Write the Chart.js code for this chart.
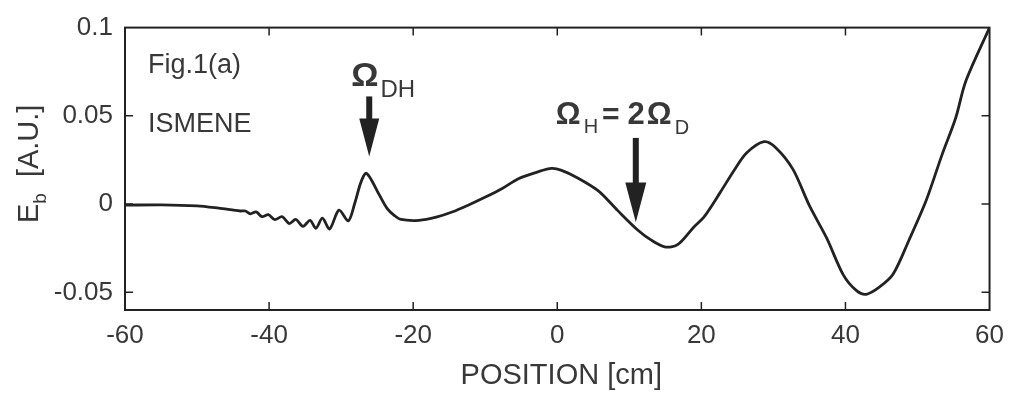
<!DOCTYPE html>
<html>
<head>
<meta charset="utf-8">
<script src="https://cdn.jsdelivr.net/npm/chart.js@4.4.1/dist/chart.umd.min.js"></script>
<style>
  body { margin: 0; background: #fff; }
  #wrap { width: 1014px; height: 399px; }
</style>
</head>
<body>
<div id="wrap"><canvas id="ebChart"></canvas></div>
<script>
// Eb profile along the beam line (ISMENE)
const posCm = [
  -60, -55, -50, -47, -44, -43.3, -42.6, -41.8, -41.0, -40.1, -39.2, -38.2,
  -37.2, -36.3, -35.3, -34.3, -33.5, -32.6, -31.6, -30.3, -29.0, -28.1, -27.4,
  -26.9, -26.5, -25.8, -24.7, -23.6, -22.6, -21.7, -19.2, -16.8, -14.6, -12.3,
  -9.9, -7.7, -5.4, -2.6, -0.8, 0.6, 2.9, 5.7, 8.4, 11.2, 13.0, 14.9, 16.7,
  19.0, 20.4, 22.6, 24.6, 26.3, 28.7, 30.3, 32.7, 35.0, 37.4, 39.7, 41.5,
  42.9, 44.7, 46.6, 48.8, 51.2, 53.4, 55.3, 56.7, 60
];
const ebValues = [
  -0.0006, -0.0004, -0.0010, -0.0023, -0.0039, -0.0039, -0.0055, -0.0044,
  -0.0071, -0.0060, -0.0088, -0.0071, -0.0110, -0.0087, -0.0126, -0.0092,
  -0.0137, -0.0080, -0.0141, -0.0034, -0.0095, 0.0006, 0.0107, 0.0158, 0.0175,
  0.0137, 0.0052, -0.0026, -0.0065, -0.0087, -0.0092, -0.0074, -0.0045,
  -0.0005, 0.0041, 0.0087, 0.0144, 0.0184, 0.0202, 0.0191, 0.0147, 0.0075,
  -0.0037, -0.0148, -0.0203, -0.0242, -0.0230, -0.0128, -0.0071, 0.0065,
  0.0195, 0.0291, 0.0354, 0.0321, 0.0198, -0.0009, -0.0193, -0.0401, -0.0489,
  -0.0511, -0.0471, -0.0398, -0.0206, 0.0020, 0.0279, 0.0488, 0.0696, 0.1
];
const xTickValues = [-60, -40, -20, 0, 20, 40, 60];
const yTickValues = [-0.05, 0, 0.05, 0.1];

const INK = "#222222";
const TEXT = "#383838";
const FONT = "'Liberation Sans', Arial, Helvetica, sans-serif";

// draws a run of text pieces (for subscripts), left to right
function drawRich(ctx, parts, x, y) {
  let cx = x;
  parts.forEach((p) => {
    ctx.font = p.font;
    cx += p.gap || 0;
    ctx.fillText(p.t, cx, y + (p.dy || 0));
    cx += ctx.measureText(p.t).width;
  });
}

function drawArrow(ctx, x, yTop, yHead, yTip, headW) {
  ctx.fillStyle = INK;
  ctx.fillRect(x - 3, yTop, 6, yHead - yTop + 2);
  ctx.beginPath();
  ctx.moveTo(x - headW / 2, yHead);
  ctx.lineTo(x + headW / 2, yHead);
  ctx.lineTo(x, yTip);
  ctx.closePath();
  ctx.fill();
}

const framePlugin = {
  id: "frame",
  afterDatasetsDraw(chart) {
    const { ctx, chartArea: a, scales } = chart;
    const sx = scales.x, sy = scales.y;
    ctx.save();

    // box
    ctx.strokeStyle = INK;
    ctx.lineWidth = 2;
    ctx.strokeRect(a.left, a.top, a.right - a.left, a.bottom - a.top);

    // inward ticks on all four sides
    ctx.lineWidth = 1.5;
    ctx.beginPath();
    xTickValues.slice(1, -1).forEach((v) => {
      const px = sx.getPixelForValue(v);
      ctx.moveTo(px, a.bottom); ctx.lineTo(px, a.bottom - 8);
      ctx.moveTo(px, a.top); ctx.lineTo(px, a.top + 8);
    });
    yTickValues.slice(0, -1).forEach((v) => {
      const py = sy.getPixelForValue(v);
      ctx.moveTo(a.left, py); ctx.lineTo(a.left + 8, py);
      ctx.moveTo(a.right, py); ctx.lineTo(a.right - 8, py);
    });
    ctx.stroke();

    // axis titles
    ctx.fillStyle = TEXT;
    ctx.textBaseline = "alphabetic";
    ctx.font = "29px " + FONT;
    ctx.textAlign = "center";
    ctx.fillText("POSITION [cm]", (a.left + a.right) / 2 + 4, 384);
    ctx.textAlign = "left";
    ctx.save();
    ctx.translate(38, 223);
    ctx.rotate(-Math.PI / 2);
    drawRich(ctx, [
      { t: "E", font: "29px " + FONT },
      { t: "b", font: "19px " + FONT, dy: 8 },
      { t: "[A.U.]", font: "29px " + FONT, gap: 16 }
    ], 0, 0);
    ctx.restore();

    // labels inside the frame
    ctx.font = "27px " + FONT;
    const lx = sx.getPixelForValue(-56.8);
    ctx.fillText("Fig.1(a)", lx, sy.getPixelForValue(0.0745));
    ctx.fillText("ISMENE", lx, sy.getPixelForValue(0.0411));

    // Omega_DH marker
    const ax1 = sx.getPixelForValue(-26.1);
    drawArrow(ctx, ax1, sy.getPixelForValue(0.061), sy.getPixelForValue(0.0485),
      sy.getPixelForValue(0.027), 20);
    ctx.fillStyle = TEXT;
    drawRich(ctx, [
      { t: "\u03A9", font: "bold 34px " + FONT },
      { t: "DH", font: "24px " + FONT, dy: 11, gap: 2 }
    ], ax1 - 18, sy.getPixelForValue(0.061) - 10);

    // Omega_H = 2 Omega_D marker
    const ax2 = sx.getPixelForValue(10.9);
    drawArrow(ctx, ax2, sy.getPixelForValue(0.0375), sy.getPixelForValue(0.0122),
      sy.getPixelForValue(-0.0103), 21);
    ctx.fillStyle = TEXT;
    drawRich(ctx, [
      { t: "\u03A9", font: "bold 31px " + FONT },
      { t: "H", font: "20px " + FONT, dy: 9, gap: 3 },
      { t: "=", font: "bold 30px " + FONT, gap: 4 },
      { t: "2", font: "bold 31px " + FONT, gap: 8 },
      { t: "\u03A9", font: "bold 31px " + FONT, gap: 2 },
      { t: "D", font: "20px " + FONT, dy: 10, gap: 3 }
    ], ax2 - 80, sy.getPixelForValue(0.0375) - 14);

    ctx.restore();
  }
};

new Chart(document.getElementById("ebChart"), {
  type: "line",
  data: {
    datasets: [{
      data: posCm.map((x, i) => ({ x, y: ebValues[i] })),
      borderColor: INK,
      borderWidth: 2.8,
      pointRadius: 0,
      tension: 0.3,
      fill: false
    }]
  },
  options: {
    responsive: true,
    maintainAspectRatio: false,
    animation: false,
    events: [],
    layout: { padding: { left: 0, top: 22, right: 21, bottom: 0 } },
    plugins: { legend: { display: false }, tooltip: { enabled: false } },
    scales: {
      x: {
        type: "linear",
        min: -60,
        max: 60,
        afterBuildTicks: (s) => { s.ticks = xTickValues.map((v) => ({ value: v })); },
        afterFit: (s) => { s.height = 89; },
        grid: { display: false, drawTicks: false },
        border: { display: false },
        ticks: {
          color: TEXT,
          padding: 10,
          maxRotation: 0,
          font: { family: FONT, size: 26 },
          callback: (v) => String(v)
        }
      },
      y: {
        type: "linear",
        min: -0.06,
        max: 0.1,
        afterBuildTicks: (s) => { s.ticks = yTickValues.map((v) => ({ value: v })); },
        afterFit: (s) => { s.width = 125; },
        grid: { display: false, drawTicks: false },
        border: { display: false },
        ticks: {
          color: TEXT,
          padding: 12,
          font: { family: FONT, size: 26 },
          callback: (v) => String(v)
        }
      }
    }
  },
  plugins: [framePlugin]
});
</script>
</body>
</html>
